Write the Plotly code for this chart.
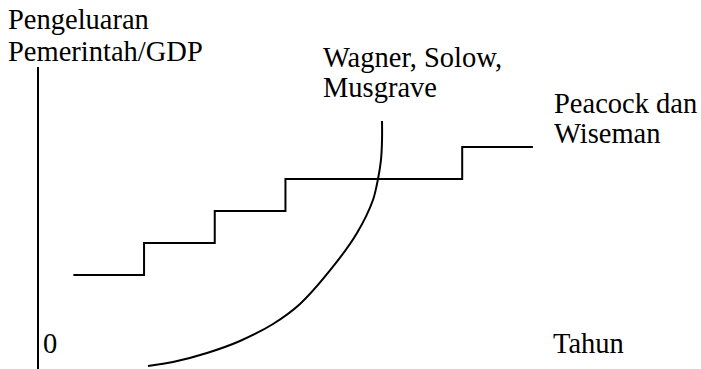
import plotly.graph_objects as go

# Step path (Peacock & Wiseman): breakpoints in time units and level units
step_x = [0.5, 1.5, 2.5, 3.5, 6.0, 7.0]
step_y = [3.0, 4.0, 5.0, 6.0, 7.0, 7.0]

# Curve (Wagner, Solow, Musgrave): points
curve_x = [1.556, 1.909, 2.390, 2.857, 3.324, 3.706, 4.158, 4.512, 4.738, 4.809, 4.851, 4.866, 4.866]
curve_y = [0.156, 0.281, 0.563, 0.938, 1.469, 2.094, 3.219, 4.313, 5.344, 6.0, 6.594, 7.219, 7.813]

# Vertical axis (Pengeluaran Pemerintah/GDP)
axis_x = [0.0, 0.0]
axis_y = [-0.3, 9.5]

# label text, left edge (px), vertical centre (px) in the page
labels = [
    ("Pengeluaran", 8, 20),
    ("Pemerintah/GDP", 8, 52),
    ("Wagner, Solow,", 323, 57),
    ("Musgrave", 323, 88),
    ("Peacock dan", 554, 103),
    ("Wiseman", 554, 133),
    ("0", 43, 343),
    ("Tahun", 553, 343),
]

W, H = 701, 369
X0, Y0 = 38, 371      # pixel of data origin inside the figure
SX, SY = 70.7, 32.0   # pixels per data unit

fig = go.Figure()
fig.add_trace(go.Scatter(x=axis_x, y=axis_y, mode="lines",
                         line=dict(color="black", width=2), hoverinfo="skip"))
fig.add_trace(go.Scatter(x=step_x, y=step_y, mode="lines",
                         line=dict(color="black", width=2, shape="hv"), hoverinfo="skip"))
fig.add_trace(go.Scatter(x=curve_x, y=curve_y, mode="lines",
                         line=dict(color="black", width=2, shape="spline", smoothing=0.8),
                         hoverinfo="skip"))

font = dict(family="'Times New Roman', 'Liberation Serif', Times, 'DejaVu Serif', serif",
            size=28.5, color="black")
for text, px, py in labels:
    fig.add_annotation(text=text, xref="paper", yref="paper",
                       x=(px - 1) / W, y=1 - py / H,
                       xanchor="left", yanchor="middle", showarrow=False, font=font,
                       borderpad=0)

fig.update_layout(
    width=W, height=H, margin=dict(l=0, r=0, t=0, b=0),
    paper_bgcolor="white", plot_bgcolor="white", showlegend=False,
    xaxis=dict(range=[-X0 / SX, (W - X0) / SX], visible=False, fixedrange=True),
    yaxis=dict(range=[(Y0 - H) / SY, Y0 / SY], visible=False, fixedrange=True),
)
fig.write_html("out.html", config={"displayModeBar": False},
               post_script="document.body.style.margin='0';document.body.style.overflow='hidden';")
